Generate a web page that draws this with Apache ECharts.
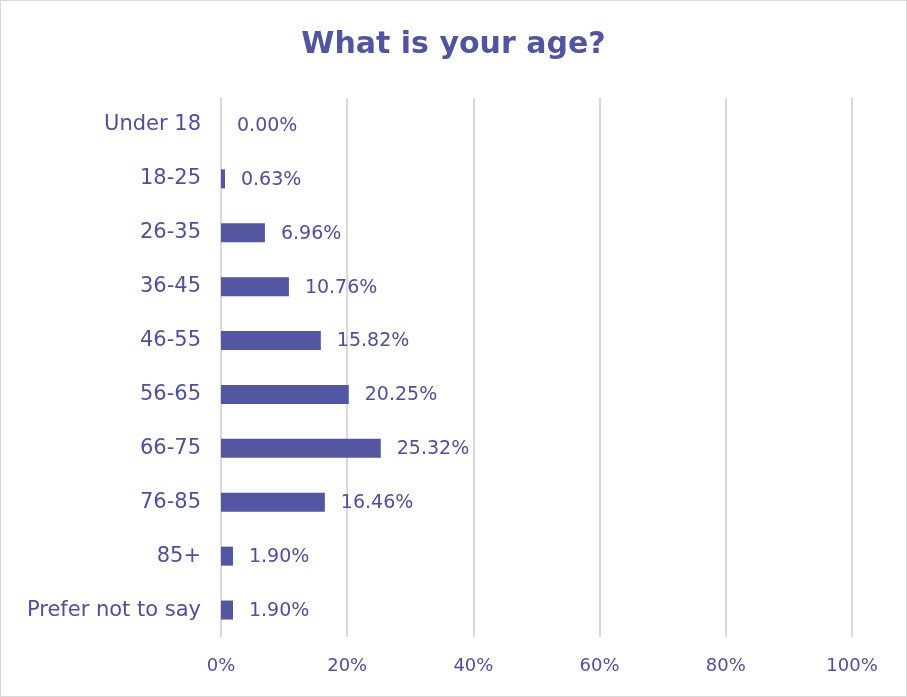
<!DOCTYPE html>
<html>
<head>
<meta charset="utf-8">
<script src="https://cdn.jsdelivr.net/npm/echarts@6/dist/echarts.min.js"></script>
<style>
  html, body { margin: 0; padding: 0; background: #fff; }
  #chart { width: 907px; height: 697px; box-sizing: border-box; border: 1px solid #d9d9d9; }
</style>
</head>
<body>
<div id="chart"></div>
<script>
// Age groups, listed top to bottom as drawn
const categories = ['Under 18', '18-25', '26-35', '36-45', '46-55', '56-65', '66-75', '76-85', '85+', 'Prefer not to say'];
// Share of respondents in each group (percent)
const shares = [0.00, 0.63, 6.96, 10.76, 15.82, 20.25, 25.32, 16.46, 1.90, 1.90];
// Horizontal axis range and step (percent)
const axisMin = 0;
const axisMax = 100;
const axisStep = 20;

const textColor = '#4f509c';
const barColor = '#5356a0';
const fontFamily = '"DejaVu Sans", Verdana, sans-serif';

const chart = echarts.init(document.getElementById('chart'));
chart.setOption({
  animation: false,
  backgroundColor: '#ffffff',
  title: {
    text: 'What is your age?',
    left: 'center',
    top: 24,
    textStyle: { color: '#5155a0', fontSize: 30, fontWeight: 'bold', fontFamily: fontFamily }
  },
  grid: { left: 220, right: 54, top: 97, bottom: 59 },
  xAxis: {
    type: 'value',
    min: axisMin,
    max: axisMax,
    interval: axisStep,
    axisLine: { show: false },
    axisTick: { show: false },
    splitLine: { show: true, lineStyle: { color: '#d9d9d9', width: 2 } },
    axisLabel: {
      formatter: '{value}%',
      color: textColor,
      fontSize: 18,
      fontFamily: fontFamily,
      margin: 20
    }
  },
  yAxis: {
    type: 'category',
    data: categories,
    inverse: true,
    axisLine: { show: true, lineStyle: { color: '#d9d9d9', width: 2 } },
    axisTick: { show: false },
    axisLabel: {
      color: textColor,
      fontSize: 21,
      fontFamily: fontFamily,
      margin: 20,
      padding: [7, 0, 0, 0]
    }
  },
  series: [{
    type: 'bar',
    data: shares,
    barWidth: 19,
    itemStyle: { color: barColor },
    label: {
      show: true,
      position: 'right',
      distance: 16,
      offset: [0, 1],
      formatter: (p) => p.value.toFixed(2) + '%',
      color: textColor,
      fontSize: 19,
      fontFamily: fontFamily
    }
  }]
});
</script>
</body>
</html>
